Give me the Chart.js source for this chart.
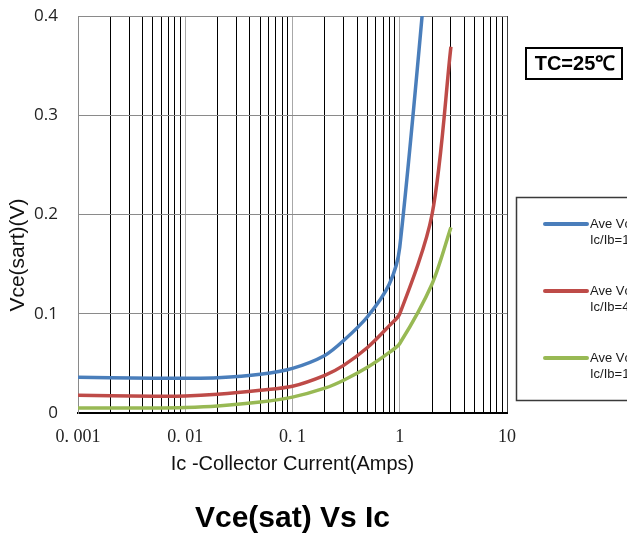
<!DOCTYPE html>
<html>
<head>
<meta charset="utf-8">
<script src="https://cdn.jsdelivr.net/npm/chart.js@4.4.1/dist/chart.umd.min.js"></script>
<style>
  html, body { margin: 0; padding: 0; background: #fff; overflow: hidden; }
  #wrap { width: 627px; height: 540px; }
</style>
</head>
<body>
<div id="wrap"><canvas id="myChart" width="627" height="540"></canvas></div>
<script>
// collector current (A)
var currents = [0.001, 0.002, 0.005, 0.01, 0.02, 0.05, 0.1, 0.2, 0.3, 0.5, 0.8, 1, 2, 3];
// Vce(sat) in volts
var vceBlue  = [0.036, 0.0355, 0.035, 0.035, 0.0355, 0.039, 0.045, 0.058, 0.073, 0.097, 0.13, 0.167, 0.51, null];
var vceRed   = [0.018, 0.0175, 0.017, 0.0172, 0.019, 0.023, 0.027, 0.038, 0.048, 0.066, 0.088, 0.1, 0.2, 0.369];
var vceGreen = [0.005, 0.005, 0.005, 0.0055, 0.007, 0.011, 0.016, 0.025, 0.033, 0.046, 0.061, 0.07, 0.13, 0.187];

var seriesNames = ["Ave Vce(sat)\nIc/Ib=100", "Ave Vce(sat)\nIc/Ib=40", "Ave Vce(sat)\nIc/Ib=10"];
var seriesColors = ["#4a7ebb", "#be4b48", "#98b954"];

var decades = [0.001, 0.01, 0.1, 1, 10];
var decadeLabels = ["0. 001", "0. 01", "0. 1", "1", "10"];
var yTicks = [0, 0.1, 0.2, 0.3, 0.4];

// grid lines at 1..9 of every decade
var xGrid = [];
for (var d = 0; d < decades.length - 1; d++) {
  for (var m = 1; m < 10; m++) xGrid.push(m == 1 ? decades[d] : +(decades[d] * m).toPrecision(3));
}
xGrid.push(10);

function pairs(vals) {
  var out = [];
  for (var i = 0; i < currents.length; i++) {
    if (vals[i] !== null) out.push({ x: currents[i], y: vals[i] });
  }
  return out;
}

var sans = "'Liberation Sans', Arial, sans-serif";

// legend box (runs off the right edge like the original) + TC note + y title
var extras = {
  id: "extras",
  afterDraw: function (chart) {
    var ctx = chart.ctx;
    ctx.save();

    // legend
    ctx.strokeStyle = "#3a3a3a";
    ctx.lineWidth = 1.5;
    ctx.strokeRect(516.5, 197.5, 200, 203);
    var rows = [224, 291, 358];
    ctx.font = "13px " + sans;
    ctx.fillStyle = "#1a1a1a";
    ctx.textBaseline = "middle";
    ctx.textAlign = "left";
    chart.data.datasets.forEach(function (ds, i) {
      var y = rows[i];
      ctx.strokeStyle = ds.borderColor;
      ctx.lineWidth = 4;
      ctx.lineCap = "round";
      ctx.beginPath();
      ctx.moveTo(545, y);
      ctx.lineTo(587, y);
      ctx.stroke();
      var lines = ds.label.split("\n");
      for (var k = 0; k < lines.length; k++) ctx.fillText(lines[k], 590, y + k * 16.5);
    });

    // TC note
    ctx.strokeStyle = "#000";
    ctx.lineWidth = 2;
    ctx.lineCap = "butt";
    ctx.strokeRect(526, 48, 96, 31);
    ctx.font = "bold 20px " + sans;
    ctx.textAlign = "center";
    ctx.fillStyle = "#000";
    ctx.fillText("TC=25\u2103", 575, 64);

    // y axis title
    ctx.translate(18, 255);
    ctx.rotate(-Math.PI / 2);
    ctx.font = "21px " + sans;
    ctx.fillStyle = "#111";
    ctx.fillText("Vce(sart)(V)", 0, 0);
    ctx.restore();
  }
};

var config = {
  type: "line",
  data: {
    datasets: [
      { label: seriesNames[0], data: pairs(vceBlue), borderColor: seriesColors[0] },
      { label: seriesNames[1], data: pairs(vceRed), borderColor: seriesColors[1] },
      { label: seriesNames[2], data: pairs(vceGreen), borderColor: seriesColors[2] }
    ]
  },
  options: {
    responsive: false,
    animation: false,
    layout: { padding: { top: 16, right: 120, left: 0, bottom: 0 } },
    elements: {
      point: { radius: 0 },
      line: { borderWidth: 3.5, tension: 0.3, fill: false }
    },
    datasets: { line: { clip: 0 } },
    plugins: {
      legend: false,
      tooltip: { enabled: false },
      title: {
        display: true,
        text: "Vce(sat) Vs Ic",
        position: "bottom",
        fullSize: false,
        color: "#000",
        font: { family: sans, size: 30, weight: "bold", lineHeight: 1.2 },
        padding: { top: 0, bottom: 3 }
      }
    },
    scales: {
      x: {
        type: "logarithmic",
        min: 0.001,
        max: 10,
        afterBuildTicks: function (scale) {
          scale.ticks = xGrid.map(function (v) { return { value: v }; });
        },
        afterFit: function (scale) { scale.height = 88; },
        ticks: {
          autoSkip: false,
          maxRotation: 0,
          padding: 13,
          color: "#222",
          font: { family: "'Liberation Serif', 'DejaVu Serif', serif", size: 18 },
          callback: function (value) {
            var i = decades.indexOf(value);
            return i >= 0 ? decadeLabels[i] : "";
          }
        },
        grid: {
          drawTicks: false,
          lineWidth: 1,
          color: function (c) {
            if (!c.tick) return "#000";
            if (c.tick.value === 10) return "#404040";
            return decades.indexOf(c.tick.value) >= 0 ? "#a8a8a8" : "#000";
          }
        },
        border: { color: "#000", width: 2 },
        title: {
          display: true,
          text: "Ic -Collector Current(Amps)",
          color: "#111",
          font: { family: sans, size: 20, lineHeight: 1.2 },
          padding: { top: 0, bottom: 25 }
        }
      },
      y: {
        type: "linear",
        min: 0,
        max: 0.4,
        afterBuildTicks: function (scale) {
          scale.ticks = yTicks.map(function (v) { return { value: v }; });
        },
        afterFit: function (scale) {
          scale.width = 78;
          // the top label may poke above the plot, like the original
          scale.paddingTop = 0;
          scale.paddingBottom = 0;
        },
        ticks: {
          padding: 20,
          color: "#222",
          font: { family: "'Open Sans', sans-serif", size: 17 },
          callback: function (value) { return String(value); }
        },
        grid: { drawTicks: false, color: "#8a8a8a", lineWidth: 1 },
        border: { color: "#8a8a8a", width: 1 }
      }
    }
  },
  plugins: [extras]
};

var myChart = new Chart(document.getElementById("myChart"), config);
</script>
</body>
</html>
